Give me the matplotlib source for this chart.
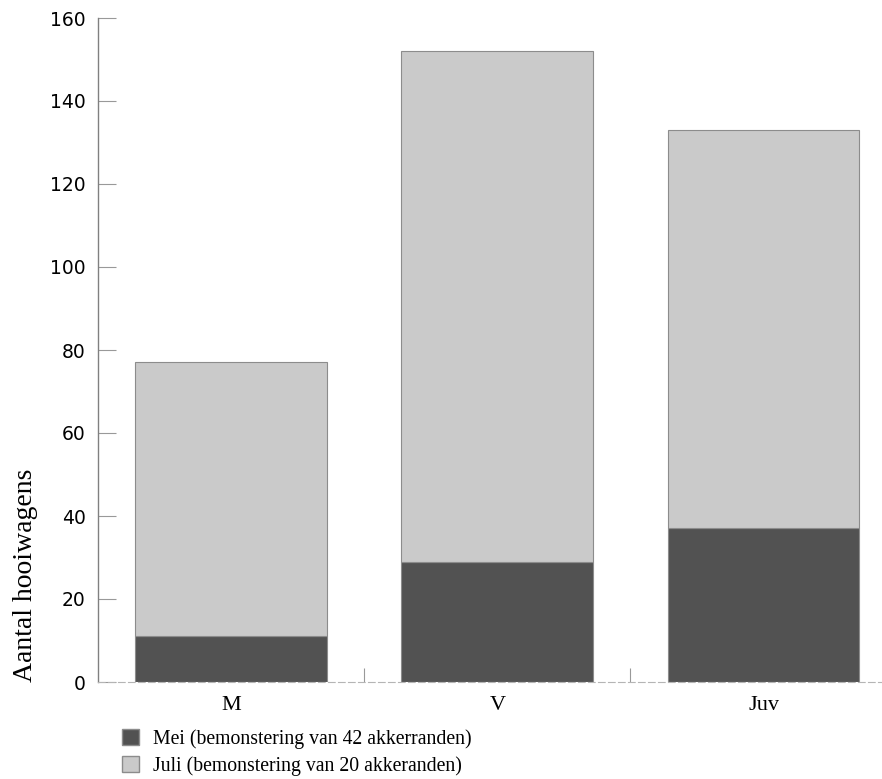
import matplotlib
matplotlib.use("Agg")
import matplotlib.pyplot as plt
import matplotlib.patches as mpatches
import numpy as np

# ── Data ───────────────────────────────────────────────────
categories = ["M", "V", "Juv"]
mei_vals   = [11, 29, 37]
juli_vals  = [66, 123, 96]
y_ticks    = [0, 20, 40, 60, 80, 100, 120, 140, 160]
legend_labels = ["Mei (bemonstering van 42 akkerranden)",
                 "Juli (bemonstering van 20 akkeranden)"]

DARK = "#525252"; LIGHT = "#cacaca"; EDGE = "#8c8c8c"; AXIS = "#808080"
SERIF = "Liberation Serif"

fig = plt.figure(figsize=(8.82, 7.79), dpi=100)
ax = fig.add_axes([98/882, 1 - 682/779, 1 - 98/882, (682 - 18)/779])

x = np.arange(len(categories))
ax.bar(x, mei_vals, width=0.72, color=DARK, edgecolor=EDGE, linewidth=0.8)
ax.bar(x, juli_vals, width=0.72, bottom=mei_vals, color=LIGHT, edgecolor=EDGE, linewidth=0.8)

ax.set_xlim(-0.5, 2.445)
ax.set_ylim(0, 160)

for s in ["top", "right"]:
    ax.spines[s].set_visible(False)
ax.spines["left"].set_color(AXIS)
ax.spines["left"].set_linewidth(1.0)
ax.spines["bottom"].set_color("#b5b5b5")
ax.spines["bottom"].set_linestyle((0, (6, 3)))
ax.spines["bottom"].set_linewidth(0.8)

ax.set_yticks(y_ticks)
ax.tick_params(axis="y", direction="in", length=13, width=0.8, color="#999999",
               pad=9, labelsize=13.5)
ax.set_xticks(x)
ax.set_xticklabels(categories, fontfamily=SERIF, fontsize=16)
ax.tick_params(axis="x", which="major", length=0, pad=10)
ax.set_xticks([0.5, 1.5], minor=True)
ax.tick_params(axis="x", which="minor", direction="in", length=10, width=0.8, color="#999999")

fig.text(0.029, (779 - 575)/779, "Aantal hooiwagens", rotation=90, ha="center",
         va="center", fontfamily=SERIF, fontsize=20)

handles = [mpatches.Patch(facecolor=DARK, edgecolor=EDGE),
           mpatches.Patch(facecolor=LIGHT, edgecolor=EDGE)]
fig.legend(handles, legend_labels, loc="upper left", bbox_to_anchor=(112/882, 1 - 719/779),
           frameon=False, prop={"family": SERIF, "size": 14.2}, handlelength=0.85,
           handleheight=0.85, handletextpad=0.75, labelspacing=0.38, borderpad=0)

plt.savefig("out.png", dpi=100, facecolor="white")
plt.close()
